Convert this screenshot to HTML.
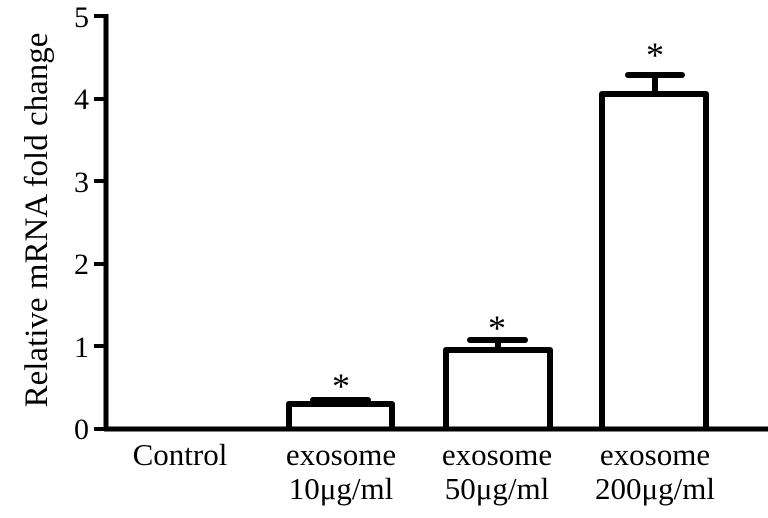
<!DOCTYPE html>
<html><head><style>body{margin:0;background:#fff}</style></head><body>
<svg width="768" height="513" xmlns="http://www.w3.org/2000/svg" font-family="Liberation Serif, serif" font-size="31">
<g stroke="#000" stroke-width="5" fill="none" stroke-linejoin="round">
<line x1="106" y1="14" x2="106" y2="431"/>
<line x1="104" y1="429" x2="768" y2="429"/>
<g stroke-width="4">
<line x1="94" y1="16" x2="106" y2="16"/>
<line x1="94" y1="99" x2="106" y2="99"/>
<line x1="94" y1="181" x2="106" y2="181"/>
<line x1="94" y1="264" x2="106" y2="264"/>
<line x1="94" y1="346" x2="106" y2="346"/>
<line x1="94" y1="429" x2="106" y2="429"/>
</g>
<g stroke-width="6">
<polyline points="289,429 289,404 392,404 392,429"/>
<polyline points="446,429 446,350 550,350 550,429"/>
<polyline points="602,429 602,94 706,94 706,429"/>
<line x1="313" y1="400" x2="368" y2="400" stroke-linecap="round"/>
<line x1="498" y1="347" x2="498" y2="340"/>
<line x1="470" y1="340" x2="525" y2="340" stroke-linecap="round"/>
<line x1="655" y1="91" x2="655" y2="75"/>
<line x1="628" y1="75" x2="682" y2="75" stroke-linecap="round"/>
</g>
</g>
<g text-anchor="end" font-size="30">
<text x="89" y="27">5</text><text x="89" y="109">4</text><text x="89" y="192">3</text>
<text x="89" y="274">2</text><text x="89" y="357">1</text><text x="89" y="439">0</text>
</g>
<g text-anchor="middle">
<g font-size="36"><text x="341" y="398">*</text><text x="497" y="340">*</text><text x="655" y="67">*</text></g>
<text x="180" y="465">Control</text>
<text x="341" y="465">exosome</text><text x="341" y="499">10μg/ml</text>
<text x="497" y="465">exosome</text><text x="497" y="499">50μg/ml</text>
<text x="655" y="465">exosome</text><text x="655" y="499">200μg/ml</text>
<text transform="translate(47,220) rotate(-90)" font-size="33">Relative mRNA  fold change</text>
</g>
</svg>
</body></html>
